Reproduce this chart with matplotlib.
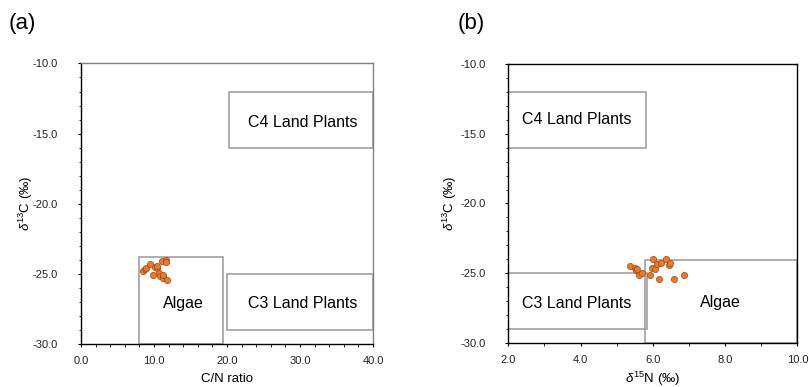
import numpy as np
import matplotlib
matplotlib.use('Agg')
import matplotlib.pyplot as plt
from matplotlib.patches import Rectangle
from matplotlib.ticker import MultipleLocator, FormatStrFormatter

plt.rcParams['font.family'] = ['Liberation Sans', 'DejaVu Sans']
plt.rcParams['mathtext.fontset'] = 'custom'
plt.rcParams['mathtext.rm'] = 'Liberation Sans'
plt.rcParams['mathtext.it'] = 'Liberation Sans:italic'

# Panel (a): C/N ratio vs d13C
cn_ratio = [8.45, 8.77, 8.9, 9.45, 10.14, 10.37, 10.45, 11.05, 11.6, 11.6,
            9.9, 10.7, 10.8, 11.2, 11.8, 11.27]
d13c_a = [-24.8, -24.66, -24.57, -24.33, -24.5, -24.6, -24.43, -24.09, -24.02, -24.18,
          -25.09, -24.97, -25.16, -25.32, -25.44, -25.09]

# Panel (b): d15N vs d13C
d15n = [5.37, 5.50, 5.53, 5.57, 5.62, 5.71, 6.01, 5.98, 6.06, 6.11, 6.22, 6.36,
        6.46, 6.47, 5.92, 6.18, 6.59, 6.86]
d13c_b = [-24.46, -24.65, -24.77, -24.7, -25.13, -24.96, -24.0, -24.6, -24.7, -24.34,
          -24.24, -23.98, -24.41, -24.29, -25.13, -25.43, -25.43, -25.1]

# source fields: (name, x0, x1, y0, y1, text x, text y)
fields_a = [
    ('C4 Land Plants', 20.3, 40.0, -16.0, -12.0, 30.4, -14.2),
    ('C3 Land Plants', 20.0, 40.0, -29.0, -25.0, 30.4, -27.1),
    ('Algae', 8.0, 19.4, -30.0, -23.8, 14.0, -27.1),
]
fields_b = [
    ('C4 Land Plants', 2.0, 5.82, -16.0, -12.0, 3.9, -14.0),
    ('C3 Land Plants', 2.0, 5.85, -29.0, -25.0, 3.9, -27.15),
    ('Algae', 5.77, 10.0, -30.0, -24.05, 7.87, -27.1),
]

box_col = '#a0a0a0'
pt_face = '#ec7a2a'
pt_edge = '#9a4a14'

fig = plt.figure(figsize=(8.09, 3.87), dpi=100)
ax1 = fig.add_axes([0.1001, 0.111, 0.361, 0.725])
ax2 = fig.add_axes([0.6283, 0.1137, 0.3573, 0.721])


def draw_fields(ax, fields):
    for name, x0, x1, y0, y1, tx, ty in fields:
        ax.add_patch(Rectangle((x0, y0), x1 - x0, y1 - y0, fill=False,
                               edgecolor=box_col, lw=1.2, zorder=2))
        ax.text(tx, ty, name, ha='center', va='center', fontsize=11.5, zorder=3)


draw_fields(ax1, fields_a)
ax1.scatter(cn_ratio, d13c_a, s=20, color=pt_face, edgecolors=pt_edge,
            linewidths=0.5, zorder=4, clip_on=False)
ax1.set_xlim(0, 40)
ax1.set_ylim(-30, -10)
ax1.xaxis.set_major_locator(MultipleLocator(10))
ax1.xaxis.set_minor_locator(MultipleLocator(2))
ax1.set_xlabel('C/N ratio', fontsize=9.5, labelpad=5.5)
ax1.set_ylabel(r'$\delta^{13}$C (‰)', fontsize=9.5)
ax1.yaxis.set_label_coords(-0.157, 0.5)
for sp in ['top', 'right']:
    ax1.spines[sp].set_color('#808080')

draw_fields(ax2, fields_b)
ax2.scatter(d15n, d13c_b, s=20, color=pt_face, edgecolors=pt_edge,
            linewidths=0.5, zorder=4, clip_on=False)
ax2.set_xlim(2, 10)
ax2.set_ylim(-30, -10)
ax2.xaxis.set_major_locator(MultipleLocator(2))
ax2.xaxis.set_minor_locator(MultipleLocator(1))
ax2.set_xlabel(r'$\delta^{15}$N (‰)', fontsize=9.5, labelpad=3.5)
ax2.set_ylabel(r'$\delta^{13}$C (‰)', fontsize=9.5)
ax2.yaxis.set_label_coords(-0.17, 0.5)

for ax in (ax1, ax2):
    ax.yaxis.set_major_locator(MultipleLocator(5))
    ax.yaxis.set_minor_locator(MultipleLocator(1))
    ax.xaxis.set_major_formatter(FormatStrFormatter('%.1f'))
    ax.yaxis.set_major_formatter(FormatStrFormatter('%.1f'))
    ax.tick_params(which='major', direction='out', length=2.5, width=0.8,
                   labelsize=8, labelcolor='#222222', top=False, right=False)
    ax.tick_params(axis='y', which='major', pad=14)
    ax.tick_params(axis='x', which='major', pad=6)
    ax.tick_params(which='minor', direction='out', length=1.8, width=0.6,
                   top=False, right=False)
    for sp in ax.spines.values():
        sp.set_linewidth(1.0)

fig.text(0.027, 0.94, '(a)', fontsize=16, ha='center', va='center')
fig.text(0.583, 0.94, '(b)', fontsize=16, ha='center', va='center')

fig.savefig('out.png', dpi=100)
